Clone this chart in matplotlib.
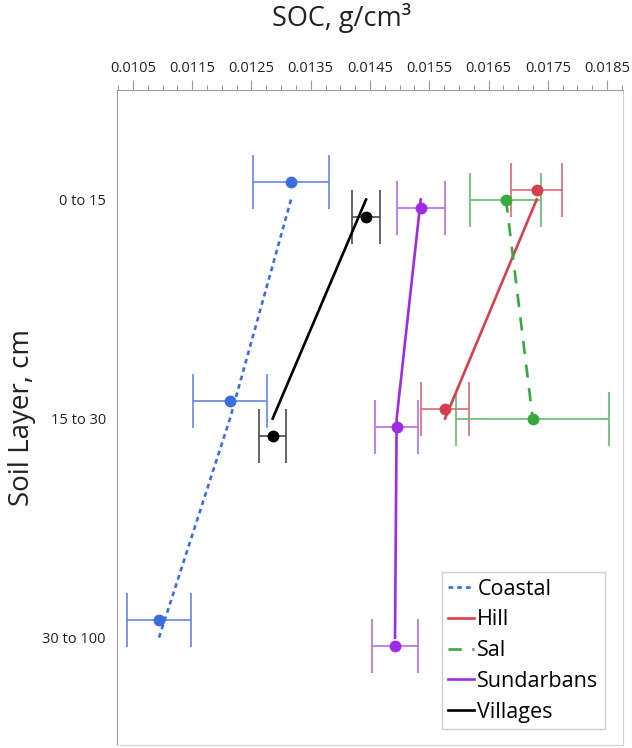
import matplotlib
matplotlib.use("Agg")
import matplotlib.pyplot as plt
from matplotlib.ticker import MultipleLocator, FixedLocator

plt.rcParams["font.family"] = ["Open Sans", "DejaVu Sans"]

# soil layers (top to bottom)
layers = ["0 to 15", "15 to 30", "30 to 100"]

# mean SOC and half width of the error bar for each site group
coastal_mean = [0.013167, 0.012137, 0.010939]
coastal_err = [0.000647, 0.000620, 0.000546]
hill_mean = [0.017313, 0.015766]
hill_err = [0.000430, 0.000400]
sal_mean = [0.016795, 0.017246]
sal_err = [0.000599, 0.001290]
sund_mean = [0.015356, 0.014950, 0.014922]
sund_err = [0.000405, 0.000366, 0.000390]
vill_mean = [0.014433, 0.012857]
vill_err = [0.000233, 0.000230]

series = [
    # name, means, errors, marker colour, bar colour, line style, offset
    ("Coastal", coastal_mean, coastal_err, "#3b6edc", "#6189e2", (0, (1.8, 1.5)), -0.08),
    ("Hill", hill_mean, hill_err, "#d83f4c", "#dc6a74", "-", -0.043),
    ("Sal", sal_mean, sal_err, "#38a843", "#66bb6d", (0, (5, 4)), 0.0),
    ("Sundarbans", sund_mean, sund_err, "#a12ae6", "#b96cec", "-", 0.038),
    ("Villages", vill_mean, vill_err, "black", "#4a4a4a", "-", 0.078),
]

fig = plt.figure(figsize=(6.32, 7.48), dpi=100)
ax = fig.add_axes([117 / 632, 3 / 748, 506 / 632, 655 / 748])

for name, means, errs, mcol, ecol, ls, off in series:
    pos = list(range(len(means)))
    # connecting line sits on the layer centre, markers are nudged apart
    ax.plot(means, pos, color=mcol, lw=1.9, ls=ls, label=name, zorder=3)
    ax.errorbar(means, [p + off for p in pos], xerr=errs, fmt="none",
                ecolor=ecol, elinewidth=1.2, capsize=19.5, capthick=1.2, zorder=2)
    ax.plot(means, [p + off for p in pos], "o", color=mcol, ms=7.5, zorder=4)

ax.set_xlim(0.01023, 0.01877)
ax.set_ylim(2.49, -0.5)

ax.xaxis.tick_top()
ax.xaxis.set_major_locator(FixedLocator([0.0105 + 0.001 * i for i in range(9)]))
ax.xaxis.set_minor_locator(MultipleLocator(0.00025))
ax.xaxis.set_major_formatter(matplotlib.ticker.FormatStrFormatter("%.4f"))
ax.tick_params(axis="x", which="major", length=7, width=0.8, color="#999999",
               labelsize=10.5, pad=3, labelcolor="#222222")
ax.tick_params(axis="x", which="minor", length=3.5, width=0.8, color="#999999")

ax.set_yticks(range(len(layers)))
ax.set_yticklabels(layers)
ax.tick_params(axis="y", length=0, labelsize=10.5, pad=8, labelcolor="#222222")

ax.spines["top"].set_color("#a0a0a0")
ax.spines["left"].set_color("#a0a0a0")
ax.spines["right"].set_color("#d4d4d4")
ax.spines["bottom"].set_color("#d4d4d4")

leg = ax.legend(loc="lower right", fontsize=15.5, frameon=True,
                fancybox=False, framealpha=1, edgecolor="#cccccc",
                handlelength=1.2, handletextpad=0.15, labelspacing=0.45,
                borderpad=0.3, borderaxespad=0)
leg.set_bbox_to_anchor((605 / 632, 1 - 729 / 748), transform=fig.transFigure)
leg.get_frame().set_linewidth(1.0)

fig.text(342 / 632, 1 - 18 / 748, "SOC, g/cm³", ha="center", va="center",
         fontsize=19.5, color="#222222")
fig.text(22 / 632, 1 - 418 / 748, "Soil Layer, cm", ha="center", va="center",
         rotation=90, fontsize=20, color="#222222")

fig.savefig("out.png", dpi=100)
